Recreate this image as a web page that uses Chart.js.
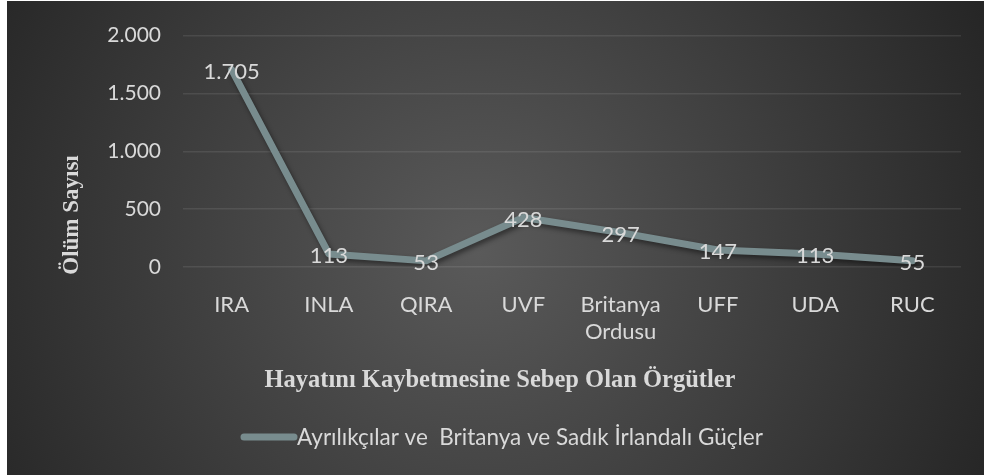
<!DOCTYPE html>
<html>
<head>
<meta charset="utf-8">
<script src="https://cdn.jsdelivr.net/npm/chart.js@4.4.0/dist/chart.umd.min.js"></script>
<style>
  body { margin: 0; background: #ffffff; }
  #wrap { position: absolute; left: 7px; top: 1px; width: 977px; height: 474px; }
</style>
</head>
<body>
<div id="wrap"><canvas id="chart"></canvas></div>
<script>
// ===== DATA =====
const categories = ["IRA", "INLA", "QIRA", "UVF", ["Britanya", "Ordusu"], "UFF", "UDA", "RUC"];
const deaths = [1705, 113, 53, 428, 297, 147, 113, 55];
const yTicks = [0, 500, 1000, 1500, 2000];
const seriesName = "Ayrılıkçılar ve  Britanya ve Sadık İrlandalı Güçler";
const xTitle = "Hayatını Kaybetmesine Sebep Olan Örgütler";
const yTitle = "Ölüm Sayısı";

const lineColor = "#788c8e";
const textColor = "#d9d9d9";
const labelFont = "Lato, 'Open Sans', sans-serif";

// turkish grouping: 1705 -> 1.705
function fmt(v) {
    return String(v).replace(/\B(?=(\d{3})+(?!\d))/g, ".");
}

// ===== PLUGINS =====
const background = {
    id: "background",
    beforeDraw(chart) {
        const { ctx, width, height } = chart;
        const g = ctx.createRadialGradient(470, 250, 0, 470, 250, 560);
        g.addColorStop(0, "#5a5a5a");
        g.addColorStop(1, "#262626");
        ctx.save();
        ctx.fillStyle = g;
        ctx.fillRect(0, 0, width, height);
        ctx.restore();
    }
};

const lineShadow = {
    id: "lineShadow",
    beforeDatasetDraw(chart) {
        const ctx = chart.ctx;
        ctx.save();
        ctx.shadowColor = "rgba(0,0,0,0.45)";
        ctx.shadowBlur = 5;
        ctx.shadowOffsetX = 2;
        ctx.shadowOffsetY = 3;
    },
    afterDatasetDraw(chart) {
        chart.ctx.restore();
    }
};

const extras = {
    id: "extras",
    afterDatasetsDraw(chart) {
        const ctx = chart.ctx;
        const meta = chart.getDatasetMeta(0);
        ctx.save();
        // data labels
        ctx.fillStyle = textColor;
        ctx.font = "22px " + labelFont;
        ctx.textAlign = "center";
        ctx.textBaseline = "middle";
        meta.data.forEach((pt, i) => {
            ctx.fillText(fmt(deaths[i]), pt.x, pt.y + 2);
        });

        // axis titles
        ctx.font = "bold 24.5px 'Liberation Serif', 'Times New Roman', serif";
        ctx.fillText(xTitle, 493, 380);
        ctx.font = "bold 23px 'Liberation Serif', 'Times New Roman', serif";
        ctx.save();
        ctx.translate(65, 214);
        ctx.rotate(-Math.PI / 2);
        ctx.fillText(yTitle, 0, 0);
        ctx.restore();

        // legend
        ctx.strokeStyle = lineColor;
        ctx.lineWidth = 7;
        ctx.lineCap = "round";
        ctx.beginPath();
        ctx.moveTo(237, 436);
        ctx.lineTo(287, 436);
        ctx.stroke();
        ctx.font = "22.5px " + labelFont;
        ctx.textAlign = "left";
        ctx.fillText(seriesName, 290, 437);
        ctx.restore();
    }
};

// ===== CHART =====
new Chart(document.getElementById("chart"), {
    type: "line",
    data: {
        labels: categories,
        datasets: [{
            label: seriesName,
            data: deaths,
            borderColor: lineColor,
            borderWidth: 7,
            borderCapStyle: "round",
            borderJoinStyle: "round",
            tension: 0,
            pointRadius: 0,
            fill: false
        }]
    },
    options: {
        responsive: true,
        maintainAspectRatio: false,
        animation: false,
        layout: { padding: { top: 29, right: 23, bottom: 0, left: 0 } },
        plugins: {
            legend: { display: false },
            tooltip: { enabled: false }
        },
        scales: {
            x: {
                offset: true,
                grid: { display: false },
                border: { display: false },
                ticks: {
                    color: textColor,
                    font: { family: labelFont, size: 22 },
                    padding: 17,
                    maxRotation: 0
                },
                afterFit(scale) { scale.height = 208; }
            },
            y: {
                min: 0,
                max: 2000,
                afterBuildTicks(scale) { scale.ticks = yTicks.map(v => ({ value: v })); },
                grid: {
                    color: "rgba(255,255,255,0.09)",
                    lineWidth: 1.5,
                    drawTicks: false
                },
                border: { display: false },
                ticks: {
                    color: textColor,
                    font: { family: labelFont, size: 21 },
                    padding: 22,
                    callback: v => fmt(v)
                },
                afterFit(scale) { scale.width = 176; }
            }
        }
    },
    plugins: [background, lineShadow, extras]
});
</script>
</body>
</html>
